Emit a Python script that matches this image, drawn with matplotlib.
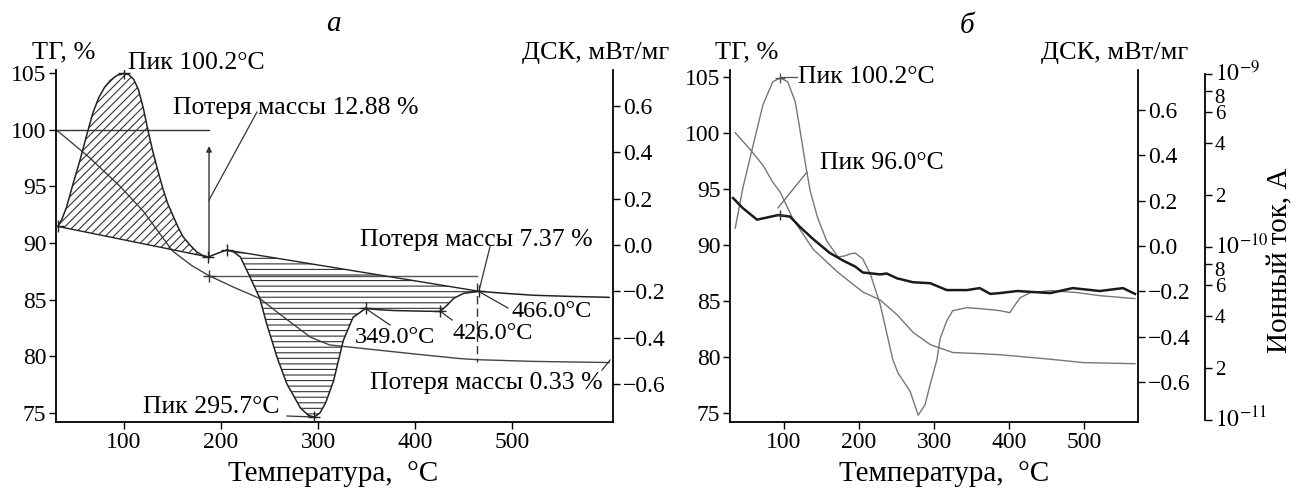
import matplotlib
matplotlib.use("Agg")
import matplotlib.pyplot as plt
from matplotlib.ticker import FixedLocator, FixedFormatter
from matplotlib.transforms import ScaledTranslation

plt.rcParams['font.family'] = ['Liberation Serif', 'DejaVu Serif']
plt.rcParams['mathtext.fontset'] = 'stix'
plt.rcParams['hatch.linewidth'] = 0.8
plt.rcParams['axes.unicode_minus'] = True

# ---------- данные, панель а ----------
t_tg_a = [30, 40, 65, 96, 120, 150, 170, 188, 213, 240, 264, 292, 312, 323, 400, 446, 464, 522, 600]
tg_a = [100.0, 99.3, 97.5, 95.0, 92.8, 89.3, 88.0, 87.1, 86.1, 85.1, 83.5, 81.7, 81.0, 80.9, 80.2, 79.8, 79.7, 79.55, 79.45]

t_dsc_a = [32, 36, 41, 48, 55, 62, 68, 74, 80, 86, 93, 100, 105, 110, 115, 120, 125, 130, 135, 140, 145,
           151, 156, 161, 168, 175, 181, 187, 197, 206, 213, 220, 230, 240, 247, 258, 268, 282, 290, 296,
           302, 308, 316, 326, 336, 349, 365, 378, 400, 426, 433, 440, 450, 466, 490, 522, 560, 600]
dsc_a = [0.080, 0.11, 0.165, 0.27, 0.37, 0.48, 0.57, 0.635, 0.68, 0.71, 0.732, 0.740, 0.735, 0.715, 0.67,
         0.59, 0.49, 0.40, 0.32, 0.245, 0.18, 0.122, 0.075, 0.035, 0.0, -0.03, -0.045, -0.052, -0.035, -0.022,
         -0.03, -0.052, -0.139, -0.230, -0.339, -0.487, -0.600, -0.704, -0.735, -0.743, -0.725, -0.68, -0.587,
         -0.413, -0.313, -0.274, -0.28, -0.283, -0.285, -0.287, -0.26, -0.230, -0.209, -0.200, -0.208, -0.217,
         -0.222, -0.226]

# точки ДСК, отмеченные крестиками
mark_t_a = [32, 100, 187, 206, 296, 349, 426, 466]
mark_d_a = [0.080, 0.740, -0.052, -0.022, -0.743, -0.274, -0.287, -0.200]

# ---------- данные, панель б ----------
t_tg_b = [35, 55, 72, 85, 95, 112, 139, 171, 205, 228, 251, 272, 295, 325, 361, 388, 455, 499, 568]
tg_b = [100.0, 98.5, 97.1, 95.6, 94.7, 92.3, 89.6, 87.6, 85.8, 85.1, 83.75, 82.2, 81.1, 80.4, 80.3, 80.2, 79.8, 79.5, 79.4]

t_dsc_b = [35, 45, 59, 72, 85, 95, 105, 115, 121, 128, 135, 145, 157, 172, 181, 188, 195, 205, 215, 228,
           245, 252, 268, 279, 288, 295, 304, 308, 317, 325, 344, 361, 388, 401, 408, 415, 428, 455, 490, 521, 568]
dsc_b = [0.079, 0.254, 0.447, 0.623, 0.724, 0.741, 0.724, 0.636, 0.518, 0.373, 0.241, 0.123, 0.022, -0.048,
         -0.044, -0.035, -0.031, -0.057, -0.123, -0.254, -0.50, -0.56, -0.64, -0.746, -0.70, -0.61, -0.50,
         -0.41, -0.33, -0.285, -0.272, -0.276, -0.285, -0.294, -0.26, -0.228, -0.206, -0.197, -0.205, -0.219, -0.232]

t_ion_b = [32, 45, 64, 77, 92, 108, 121, 139, 161, 179, 195, 205, 228, 237, 251, 272, 295, 317, 344, 361,
           375, 388, 411, 455, 485, 521, 552, 568]
ion_b = [1.92, 1.68, 1.44, 1.48, 1.53, 1.50, 1.31, 1.11, 0.925, 0.834, 0.771, 0.713, 0.695, 0.703, 0.659,
         0.626, 0.618, 0.564, 0.564, 0.579, 0.536, 0.542, 0.557, 0.542, 0.579, 0.557, 0.579, 0.536]  # x1e-10 A

dsc_ticks = [-0.6, -0.4, -0.2, 0.0, 0.2, 0.4, 0.6]
tg_ticks = [75, 80, 85, 90, 95, 100, 105]
t_ticks = [100, 200, 300, 400, 500]
ion_major = [1e-11, 1e-10, 1e-9]
ion_major_lab = [r'$10^{-11}$', r'$10^{-10}$', r'$10^{-9}$']
ion_minor = [2e-11, 4e-11, 6e-11, 8e-11, 2e-10, 4e-10, 6e-10, 8e-10]
ion_minor_lab = ['2', '4', '6', '8', '2', '4', '6', '8']

W, H = 1297, 491
FS = 17      # подписи делений
FT = 18.5    # надписи с текстом
FN = 17.5    # надписи-числа


def P(x, y):
    return x / W, 1 - y / H


def style(ax, side):
    for s in ['top', 'left', 'right', 'bottom']:
        ax.spines[s].set_visible(False)
    for s in side:
        ax.spines[s].set_visible(True)
        ax.spines[s].set_linewidth(1.3)
    ax.tick_params(direction='out', length=5, width=1, labelsize=FS, pad=2)


fig = plt.figure(figsize=(W / 100, H / 100), dpi=100)

# ================= панель а =================
ax1 = fig.add_axes([56 / W, (H - 422) / H, 557 / W, 352 / H])
ax1.set_xlim(30, 604)
ax1.set_ylim(74.2, 105.27)
style(ax1, ['left', 'bottom'])
ax1.set_xticks(t_ticks)
ax1.set_yticks(tg_ticks)
ax1.plot(t_tg_a, tg_a, color='#444444', lw=1.0)

ax2 = ax1.twinx()
ax2.set_ylim(-0.764, 0.755)
style(ax2, ['right'])
ax2.set_yticks(dsc_ticks)
ax2.set_yticklabels([f"{v:.1f}".replace('-', '\u2212') for v in dsc_ticks])

ax2.plot(t_dsc_a, dsc_a, color='#222222', lw=1.1)
# пик 1 (косая штриховка)
i1 = [i for i, t in enumerate(t_dsc_a) if t <= 187]
ax2.fill([t_dsc_a[i] for i in i1], [dsc_a[i] for i in i1], facecolor='none',
         edgecolor='#333333', hatch='////', lw=0)
ax2.plot([t_dsc_a[i1[0]], t_dsc_a[i1[-1]]], [dsc_a[i1[0]], dsc_a[i1[-1]]], color='#222222', lw=1.0)
# пик 2 (горизонтальная штриховка)
i2 = [i for i, t in enumerate(t_dsc_a) if 206 <= t <= 466]
ax2.fill([t_dsc_a[i] for i in i2], [dsc_a[i] for i in i2], facecolor='none',
         edgecolor='#333333', hatch='---', lw=0)
ax2.plot([t_dsc_a[i2[0]], t_dsc_a[i2[-1]]], [dsc_a[i2[0]], dsc_a[i2[-1]]], color='#222222', lw=1.0)
ax2.plot(mark_t_a, mark_d_a, ls='none', marker='+', ms=8, mew=1, color='#222222')

# вспомогательные линии потери массы
ax1.plot([30, 187.7], [100, 100], color='#333333', lw=1.0)
ax1.plot([187.7, 464], [87.12, 87.12], color='#555555', lw=1.0)
ax1.plot([187.7], [87.12], marker='+', ms=8, mew=1, color='#333333')
ax1.annotate('', xy=(187.7, 98.8), xytext=(187.7, 88.4),
             arrowprops=dict(arrowstyle='-|>', color='#333333', lw=1.0, mutation_scale=8))
ax1.plot([464, 464], [86.47, 79.49], color='#333333', lw=1.0, ls=(0, (6, 3)))

lc = '#333333'
ax1.plot([237.1, 187.7], [101.56, 93.79], color=lc, lw=0.9)
ax1.plot([477.2, 466.9], [89.65, 86.12], color=lc, lw=0.9)
ax1.plot([464.9, 495.8], [85.76, 84.26], color=lc, lw=0.9)
ax1.plot([425.7, 438.1], [83.99, 83.2], color=lc, lw=0.9)
ax1.plot([348.4, 374.2], [84.26, 82.76], color=lc, lw=0.9)
ax1.plot([268, 297], [74.73, 74.64], color=lc, lw=0.9)
ax1.plot([592.7, 601], [78.79, 79.67], color=lc, lw=0.9)

ax1.text(104.2, 105.9, 'Пик 100.2°C', fontsize=FT, va='center', ha='left')
ax1.text(150.5, 101.92, 'Потеря массы 12.88 %', fontsize=FT, va='center', ha='left')
ax1.text(343.3, 90.26, 'Потеря массы 7.37 %', fontsize=FT, va='center', ha='left')
ax1.text(499.9, 83.91, '466.0°C', fontsize=FN, va='center', ha='left')
ax1.text(438.1, 82.05, '426.0°C', fontsize=FN, va='center', ha='left')
ax1.text(338.1, 81.70, '349.0°C', fontsize=FN, va='center', ha='left')
ax1.text(119.7, 75.52, 'Пик 295.7°C', fontsize=FT, va='center', ha='left')
ax1.text(353.6, 77.64, 'Потеря массы 0.33 %', fontsize=FT, va='center', ha='left')

# ================= панель б =================
ax3 = fig.add_axes([730 / W, (H - 422) / H, 408 / W, 352 / H])
ax3.set_xlim(28, 572)
ax3.set_ylim(74.2, 105.6)
style(ax3, ['left', 'bottom'])
ax3.set_xticks(t_ticks)
ax3.set_yticks(tg_ticks)
ax3.plot(t_tg_b, tg_b, color='#777777', lw=1.0)

ax4 = ax3.twinx()
ax4.set_ylim(-0.776, 0.776)
style(ax4, ['right'])
ax4.set_yticks(dsc_ticks)
ax4.set_yticklabels([f"{v:.1f}".replace('-', '\u2212') for v in dsc_ticks])
ax4.plot(t_dsc_b, dsc_b, color='#777777', lw=1.0)
ax4.plot([95], [0.741], marker='+', ms=7, mew=1, color='#555555')

ax5 = ax3.twinx()
ax5.set_yscale('log')
ax5.set_ylim(10 ** -11.011, 10 ** -8.977)
style(ax5, ['right'])
ax5.spines['right'].set_position(('outward', 67 * 0.72))
ax5.spines['right'].set_bounds(1e-11, 1e-9)
ax5.yaxis.set_major_locator(FixedLocator(ion_major))
ax5.yaxis.set_major_formatter(FixedFormatter(ion_major_lab))
ax5.yaxis.set_minor_locator(FixedLocator(ion_minor))
ax5.yaxis.set_minor_formatter(FixedFormatter(ion_minor_lab))
ax5.tick_params(which='minor', direction='out', length=5, width=1, labelsize=FS - 2, pad=2)
ax5.tick_params(which='major', labelsize=FS)
ax5.plot(t_ion_b, [v * 1e-10 for v in ion_b], color='#1a1a1a', lw=1.8)
ax5.plot([94], [1.53e-10], marker='+', ms=7, mew=1, color='#333333')

ax3.plot([96, 117.3], [104.98, 104.98], color='#555555', lw=0.9)
ax3.plot([92, 130.7], [93.3, 96.5], color='#666666', lw=0.9)
ax3.text(118.7, 104.98, 'Пик 100.2°C', fontsize=FT, va='center', ha='left')
ax3.text(148, 97.3, 'Пик 96.0°C', fontsize=FT, va='center', ha='left')

# ---------- подписи ----------
fig.text(*P(64, 52), 'ТГ, %', fontsize=19, ha='center', va='center')
fig.text(*P(596, 53), 'ДСК, мВт/мг', fontsize=19, ha='center', va='center')
fig.text(*P(747, 52), 'ТГ, %', fontsize=19, ha='center', va='center')
fig.text(*P(1115, 53), 'ДСК, мВт/мг', fontsize=19, ha='center', va='center')
fig.text(*P(1280, 260), 'Ионный ток, А', fontsize=21, ha='center', va='center', rotation=90)
fig.text(*P(333, 474), 'Температура,  °C', fontsize=21, ha='center', va='center')
fig.text(*P(944, 474), 'Температура,  °C', fontsize=21, ha='center', va='center')
fig.text(*P(333, 24), 'а', fontsize=21, ha='center', va='center', style='italic')
fig.text(*P(967, 26), 'б', fontsize=21, ha='center', va='center', style='italic')

# сдвиг подписей "8" вниз, степеней десяти — вверх, чтобы они не налезали
fig.canvas.draw()
down = ScaledTranslation(0, -5 / 100, fig.dpi_scale_trans)
up = ScaledTranslation(0, 3 / 100, fig.dpi_scale_trans)
for tk, lab in zip(ax5.yaxis.get_minor_ticks(), ion_minor_lab):
    if lab == '8':
        tk.label2.set_transform(tk.label2.get_transform() + down)
for tk in ax5.yaxis.get_major_ticks():
    tk.label2.set_transform(tk.label2.get_transform() + up)

fig.savefig('out.png', dpi=100)
